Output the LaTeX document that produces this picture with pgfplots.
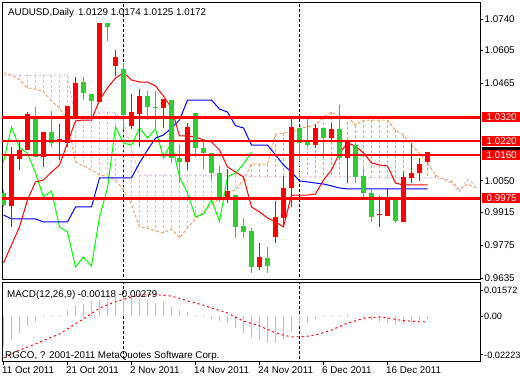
\documentclass[border=0pt]{standalone}
\usepackage{pgfplots}
\pgfplotsset{compat=1.18}
\usepackage{pgfplotstable}
\usepackage{fontspec}
\setmainfont{Liberation Sans}
\definecolor{mtred}{RGB}{255,0,0}
\definecolor{mtgreen}{RGB}{50,205,50}
\definecolor{mtlime}{RGB}{0,255,0}
\definecolor{mtblue}{RGB}{0,0,255}
\definecolor{sandy}{RGB}{244,164,96}
\definecolor{thist}{RGB}{216,191,216}
\definecolor{silv}{RGB}{192,192,192}

% bullish candles (drawn red)
\pgfplotstableread{
x O H L C
1 0.9942 1.0194 0.9853 1.0156
2 1.0143 1.0224 1.0096 1.0181
3 1.0181 1.0343 1.0181 1.0335
5 1.0151 1.0258 1.0109 1.0258
7 1.0215 1.0292 1.0139 1.0228
8 1.0211 1.0369 1.0194 1.0369
9 1.0326 1.0493 1.0326 1.0467
12 1.0386 1.0723 1.0386 1.0723
14 1.0539 1.0608 1.0497 1.0578
16 1.0283 1.0420 1.0271 1.0343
17 1.0335 1.0441 1.0194 1.0411
20 1.0360 1.0399 1.0275 1.0399
23 1.0130 1.0296 1.0096 1.0279
28 0.9981 1.0100 0.9955 1.0006
32 0.9682 0.9784 0.9669 0.9725
34 0.9810 0.9963 0.9784 0.9896
35 0.9891 1.0070 0.9853 1.0019
36 1.0019 1.0322 0.9938 1.0279
39 1.0202 1.0292 1.0190 1.0275
41 1.0232 1.0296 1.0224 1.0271
43 1.0147 1.0215 1.0040 1.0215
47 0.9904 0.9985 0.9853 0.9908
48 0.9900 1.0019 0.9900 0.9968
50 0.9874 1.0087 0.9874 1.0066
51 1.0062 1.0211 1.0040 1.0083
52 1.0083 1.0147 1.0049 1.0121
53 1.0129 1.0174 1.0125 1.0172
}\bull

% bearish candles (drawn green)
\pgfplotstableread{
x O H L C
0 0.9998 1.0010 0.9938 0.9946
4 1.0322 1.0365 1.0151 1.0151
6 1.0258 1.0347 1.0194 1.0211
10 1.0471 1.0493 1.0394 1.0424
11 1.0420 1.0420 1.0309 1.0390
13 1.0723 1.0723 1.0646 1.0706
15 1.0527 1.0552 1.0266 1.0330
18 1.0411 1.0433 1.0309 1.0365
19 1.0365 1.0433 1.0271 1.0360
21 1.0394 1.0394 1.0126 1.0147
22 1.0147 1.0202 1.0040 1.0130
24 1.0339 1.0339 1.0151 1.0190
25 1.0190 1.0220 1.0100 1.0168
26 1.0168 1.0168 1.0053 1.0083
27 1.0083 1.0113 0.9959 0.9981
29 0.9989 0.9989 0.9806 0.9853
30 0.9857 0.9891 0.9806 0.9831
31 0.9836 0.9848 0.9657 0.9682
33 0.9720 0.9767 0.9657 0.9686
37 1.0275 1.0275 1.0139 1.0211
38 1.0215 1.0318 1.0194 1.0202
40 1.0275 1.0275 1.0147 1.0232
42 1.0271 1.0373 1.0139 1.0147
44 1.0202 1.0211 1.0040 1.0066
45 1.0070 1.0100 0.9972 0.9998
46 0.9998 1.0019 0.9874 0.9896
49 0.9981 0.9981 0.9870 0.9878
}\bear

% Ichimoku cloud: Senkou span A and B
\pgfplotstableread{
x A B
0 1.0510 1.0501
1 1.0501 1.0501
2 1.0480 1.0501
3 1.0446 1.0501
4 1.0441 1.0501
5 1.0429 1.0501
6 1.0390 1.0501
7 1.0360 1.0501
8 1.0309 1.0501
9 1.0130 1.0309
10 1.0113 1.0309
11 1.0096 1.0309
12 1.0074 1.0343
13 1.0070 1.0343
14 1.0053 1.0339
15 1.0011 1.0300
16 0.9947 1.0181
17 0.9853 1.0074
18 0.9848 1.0074
19 0.9836 1.0074
20 0.9827 1.0074
21 0.9844 1.0074
22 0.9806 1.0074
23 0.9848 1.0074
24 0.9887 1.0074
25 0.9917 1.0074
26 0.9947 1.0074
27 0.9972 1.0074
28 0.9998 1.0074
29 1.0011 1.0074
30 1.0053 1.0074
31 1.0121 1.0066
32 1.0121 1.0066
33 1.0121 1.0066
34 1.0249 1.0066
35 1.0254 1.0066
36 1.0254 1.0066
37 1.0275 1.0066
38 1.0279 1.0066
39 1.0288 1.0066
40 1.0322 1.0066
41 1.0343 1.0066
42 1.0322 1.0066
43 1.0322 1.0066
44 1.0288 1.0066
45 1.0309 1.0066
46 1.0309 1.0062
47 1.0309 1.0062
48 1.0309 1.0062
49 1.0266 1.0062
50 1.0245 1.0062
51 1.0202 1.0062
52 1.0168 1.0062
53 1.0126 1.0062
54 1.0074 1.0062
55 1.0057 1.0057
56 1.0049 1.0040
57 1.0011 1.0002
58 1.0036 1.0057
59 1.0019 1.0028
}\cloud

% Tenkan-sen (T) and Kijun-sen (K)
\pgfplotstableread{
x T K
0 0.9699 0.9904
1 0.9776 0.9887
2 0.9853 0.9887
3 0.9968 0.9887
4 1.0045 0.9887
5 1.0053 0.9874
6 1.0087 0.9874
7 1.0117 0.9874
8 1.0211 0.9874
9 1.0305 0.9938
10 1.0309 0.9938
11 1.0309 0.9938
12 1.0394 1.0062
13 1.0446 1.0062
14 1.0488 1.0062
15 1.0510 1.0062
16 1.0480 1.0062
17 1.0471 1.0126
18 1.0471 1.0181
19 1.0454 1.0232
20 1.0411 1.0245
21 1.0360 1.0275
22 1.0241 1.0309
23 1.0241 1.0394
24 1.0237 1.0394
25 1.0224 1.0394
26 1.0215 1.0394
27 1.0181 1.0356
28 1.0109 1.0343
29 1.0087 1.0285
30 1.0066 1.0275
31 0.9938 1.0202
32 0.9917 1.0202
33 0.9891 1.0202
34 0.9874 1.0160
35 0.9853 1.0117
36 0.9989 1.0087
37 0.9989 1.0049
38 0.9989 1.0045
39 0.9993 1.0040
40 1.0053 1.0036
41 1.0096 1.0028
42 1.0168 1.0019
43 1.0211 1.0015
44 1.0198 1.0015
45 1.0168 1.0015
46 1.0126 1.0015
47 1.0117 1.0015
48 1.0113 1.0015
49 1.0040 1.0015
50 1.0032 1.0015
51 1.0032 1.0015
52 1.0032 1.0015
53 1.0032 1.0015
}\ichi

% Chikou span
\pgfplotstableread{
x S
0 1.0130
1 1.0279
2 1.0190
3 1.0168
4 1.0083
5 0.9981
6 1.0006
7 0.9853
8 0.9831
9 0.9682
10 0.9725
11 0.9686
12 0.9896
13 1.0019
14 1.0279
15 1.0211
16 1.0202
17 1.0275
18 1.0232
19 1.0271
20 1.0147
21 1.0215
22 1.0066
23 0.9998
24 0.9896
25 0.9908
26 0.9968
27 0.9878
28 1.0066
29 1.0083
30 1.0121
31 1.0172
}\chikou

% MACD main (M) and signal (S)
\pgfplotstableread{
x M S
0 -0.0146 -0.0203
1 -0.0114 -0.0184
2 -0.0081 -0.0164
3 -0.0049 -0.0150
4 -0.0029 -0.0135
5 -0.0005 -0.0118
6 0.0005 -0.0102
7 0.0008 -0.0086
8 0.0032 -0.0062
9 0.0056 -0.0037
10 0.0061 -0.0012
11 0.0073 0.0013
12 0.0081 0.0040
13 0.0089 0.0056
14 0.0094 0.0071
15 0.0094 0.0082
16 0.0094 0.0093
17 0.0084 0.0104
18 0.0078 0.0105
19 0.0065 0.0105
20 0.0068 0.0102
21 0.0045 0.0098
22 0.0029 0.0087
23 0.0019 0.0075
24 0.0008 0.0065
25 -0.0001 0.0054
26 -0.0012 0.0040
27 -0.0024 0.0028
28 -0.0033 0.0016
29 -0.0057 -0.0005
30 -0.0081 -0.0023
31 -0.0106 -0.0035
32 -0.0114 -0.0047
33 -0.0130 -0.0064
34 -0.0130 -0.0081
35 -0.0114 -0.0092
36 -0.0078 -0.0100
37 -0.0041 -0.0101
38 -0.0033 -0.0097
39 -0.0013 -0.0091
40 0.0005 -0.0079
41 0.0008 -0.0067
42 0.0008 -0.0050
43 0.0011 -0.0033
44 0.0000 -0.0022
45 -0.0008 -0.0010
46 -0.0017 -0.0006
47 -0.0029 -0.0004
48 -0.0033 -0.0008
49 -0.0041 -0.0015
50 -0.0036 -0.0021
51 -0.0029 -0.0024
52 -0.0019 -0.0027
53 -0.00118 -0.0028
}\macd

\pgfplotsset{
  mtaxis/.style={
    scale only axis, anchor=south west,
    xmin=-0.1875, xmax=59.5625,
    axis line style={black, line width=1bp},
    tick align=outside, major tick length=3bp,
    tick style={black, line width=0.8bp},
    ytick pos=right, yticklabel pos=right,
    scaled y ticks=false, scaled x ticks=false,
    tick label style={font=\fontsize{9.8bp}{11bp}\selectfont, text=black},
    yticklabel style={anchor=west, inner sep=0pt, xshift=1.5bp},
    clip mode=individual,
  },
  wick/.style={draw=none, mark=none, forget plot,
    error bars/y dir=plus, error bars/y explicit, error bars/error mark=none,
    error bars/error bar style={draw=#1, line width=1bp, solid}},
  body/.style={draw=none, mark=none, forget plot,
    error bars/y dir=plus, error bars/y explicit, error bars/error mark=none,
    error bars/error bar style={draw=#1, line width=5bp, solid}},
  hatch/.style={draw=none, mark=none, forget plot,
    error bars/y dir=minus, error bars/y explicit, error bars/error mark=none,
    error bars/error bar style={draw=#1, line width=1bp, dash pattern=on 3bp off 2bp}},
  sep/.style={black, line width=1bp, dash pattern=on 3bp off 2bp, forget plot},
}

\begin{document}
\begin{tikzpicture}[font=\fontsize{9.8bp}{11bp}\selectfont]
\useasboundingbox (0,0) rectangle (520bp,380bp);

% ---------------- main price panel ----------------
\begin{axis}[mtaxis,
  at={(2bp,100bp)}, width=478bp, height=277bp,
  ymin=0.96265, ymax=1.08082,
  xtick=\empty,
  ytick={0.9635,0.9775,0.9915,1.0050,1.0465,1.0605,1.0740},
  yticklabels={0.9635,0.9775,0.9915,1.0050,1.0465,1.0605,1.0740},
]
% period separators
\addplot[sep] coordinates {(15,0.9) (15,1.2)};
\addplot[sep] coordinates {(37,0.9) (37,1.2)};
% cloud hatching
\addplot[restrict x to domain=1:30, hatch=thist]
  table[x=x, y=B, y error expr=\thisrow{B}-\thisrow{A}] {\cloud};
\addplot[restrict x to domain=58:59, hatch=thist]
  table[x=x, y=B, y error expr=\thisrow{B}-\thisrow{A}] {\cloud};
\addplot[restrict x to domain=31:57, hatch=sandy]
  table[x=x, y=A, y error expr=\thisrow{A}-\thisrow{B}] {\cloud};
% cloud edges
\addplot[sandy, line width=1bp, dash pattern=on 3bp off 2bp] table[x=x, y=A] {\cloud};
\addplot[thist, line width=1bp, dash pattern=on 3bp off 2bp] table[x=x, y=B] {\cloud};
% Ichimoku lines
\addplot[mtlime, line width=1bp] table[x=x, y=S] {\chikou};
\addplot[mtblue, line width=1bp] table[x=x, y=K] {\ichi};
\addplot[mtred, line width=1bp] table[x=x, y=T] {\ichi};
% candles
\addplot[wick=mtred] table[x=x, y=L, y error expr=\thisrow{H}-\thisrow{L}] {\bull};
\addplot[body=mtred] table[x=x, y=O, y error expr=\thisrow{C}-\thisrow{O}] {\bull};
\addplot[wick=mtgreen] table[x=x, y=L, y error expr=\thisrow{H}-\thisrow{L}] {\bear};
\addplot[body=mtgreen] table[x=x, y=C, y error expr=\thisrow{O}-\thisrow{C}] {\bear};
% horizontal levels
\addplot[mtred, line width=2.4bp, forget plot] coordinates {(-1,1.0320) (61,1.0320)};
\addplot[mtred, line width=2.4bp, forget plot] coordinates {(-1,1.0220) (61,1.0220)};
\addplot[mtred, line width=2.4bp, forget plot] coordinates {(-1,1.0160) (61,1.0160)};
\addplot[mtred, line width=2.4bp, forget plot] coordinates {(-1,0.9975) (61,0.9975)};
% labels
\node[anchor=base west, inner sep=0pt, text=black] at (rel axis cs:0,1)
  [xshift=6bp, yshift=-12.8bp] {AUDUSD,Daily\hspace{4bp}1.0129 1.0174 1.0125 1.0172};
\node[anchor=west, fill=black, inner sep=0pt, minimum height=10bp,
  minimum width=38bp, xshift=2bp, yshift=0.5bp] at (axis cs:59.5625,1.0172) {};
\node[anchor=west, fill=mtred, text=white, inner xsep=3bp, inner ysep=1.5bp,
  minimum width=40bp, xshift=1.5bp] at (axis cs:59.5625,1.0320) {1.0320};
\node[anchor=west, fill=mtred, text=white, inner xsep=3bp, inner ysep=1.5bp,
  minimum width=40bp, xshift=1.5bp] at (axis cs:59.5625,1.0220) {1.0220};
\node[anchor=west, fill=mtred, text=white, inner xsep=3bp, inner ysep=1.5bp,
  minimum width=40bp, xshift=1.5bp] at (axis cs:59.5625,1.0160) {1.0160};
\node[anchor=west, fill=mtred, text=white, inner xsep=3bp, inner ysep=1.5bp,
  minimum width=40bp, xshift=1.5bp] at (axis cs:59.5625,0.9975) {0.9975};
\end{axis}

% ---------------- MACD panel ----------------
\begin{axis}[mtaxis,
  at={(2bp,18bp)}, width=478bp, height=79bp,
  ymin=-0.02226, ymax=0.01622,
  xtick={0,8,16,24,32,40,48},
  xticklabels={11 Oct 2011,21 Oct 2011,2 Nov 2011,14 Nov 2011,24 Nov 2011,6 Dec 2011,16 Dec 2011},
  xtick pos=left,
  xticklabel style={anchor=north west, inner sep=0pt, xshift=-1.5bp, yshift=-1bp},
  ytick={-0.0188,0,0.0128},
  yticklabels={-0.02223,0.00,0.01572},
  yticklabel style={font=\fontsize{9.2bp}{11bp}\selectfont, xshift=-0.5bp},
]
\addplot[sep] coordinates {(15,-1) (15,1)};
\addplot[sep] coordinates {(37,-1) (37,1)};
\addplot[silv, line width=1bp, ycomb, forget plot] table[x=x, y=M] {\macd};
\addplot[mtred, line width=1bp, dash pattern=on 2bp off 3bp, forget plot] table[x=x, y=S] {\macd};
\node[anchor=base west, inner sep=0pt, text=black] at (rel axis cs:0,1)
  [xshift=5bp, yshift=-14.5bp] {MACD(12,26,9) -0.00118 -0.00279};
\node[anchor=base west, inner sep=0pt, text=black] at (rel axis cs:0,0)
  [xshift=3bp, yshift=3bp] {RGCO, ? 2001-2011 MetaQuotes Software Corp.};
\end{axis}
\end{tikzpicture}
\end{document}
